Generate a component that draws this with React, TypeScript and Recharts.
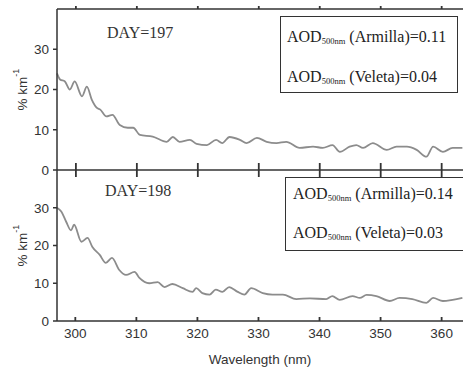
import React from "react";
import { Line, LineChart, XAxis, YAxis } from "recharts";

// wavelength (nm) and extinction (% km^-1)
const wl197 = [
  296.9, 297.4, 298.2, 299, 299.8, 301, 301.8, 302.6, 303.4, 304, 305, 306,
  307.2, 308.5, 309.4, 310.5, 312.6, 314.9, 315.9, 317, 318.7, 319.8, 321.5,
  323, 324, 325.2, 326.9, 328, 329.7, 331.3, 332.9, 334.5, 336.7, 338.9, 340.5,
  342.1, 343.3, 344.9, 346, 347.1, 348.7, 351, 352.6, 354.3, 355.9, 357.5,
  358.6, 360.2, 361.8, 363.4,
];
const day197 = [
  24, 22.5, 22, 20, 22, 18.3, 20.7, 17.5, 15.5, 15, 13.3, 13.7, 11.2, 10.5,
  10.5, 8.7, 8.3, 7, 8.2, 7, 7.5, 6.5, 6.2, 7.5, 6.7, 8.2, 7.5, 6.7, 8, 7, 6.7,
  7, 5.5, 5.8, 5.5, 6.2, 4.5, 5.8, 6.2, 5.5, 6.7, 5, 5.8, 5.8, 5, 3.3, 5.8, 4.5,
  5.5, 5.5,
];

const wl198 = [
  297, 297.7, 298.5, 299.3, 299.8, 301, 302, 302.8, 304, 305, 306, 307.2, 308.3,
  309.7, 310.5, 312.1, 313.5, 314.6, 315.9, 317.6, 319.2, 319.8, 320.8, 322,
  323, 324.1, 325.2, 326.6, 327.7, 328.8, 330.7, 332.3, 334, 336.2, 338.4,
  341.1, 342.1, 343.3, 345.4, 346.6, 347.7, 349.3, 351.5, 353.1, 355.2, 357.5,
  358.6, 360.2, 361.8, 363.4,
];
const day198 = [
  30, 29, 26.3, 24, 25.5, 21, 22, 19.6, 17.5, 15.4, 16.7, 13.5, 12.2, 13, 11.4,
  10, 10.3, 9, 9.8, 8.7, 7.7, 8.7, 7.4, 7, 8.3, 7.7, 9, 7.7, 7, 8.7, 7.4, 7, 7,
  5.8, 6, 5.8, 6.6, 5.6, 6.6, 6.1, 6.9, 6.6, 5.3, 6.1, 5.8, 4.8, 6.1, 5.3, 5.6,
  6.1,
];

const xTicks = [300, 310, 320, 330, 340, 350, 360];
const yTicks = [0, 10, 20, 30];

const data197 = wl197.map((w, i) => ({ w, v: day197[i] }));
const data198 = wl198.map((w, i) => ({ w, v: day198[i] }));

const axisColor = "#333";
const lineColor = "#8c8c8c";
const sans = "Liberation Sans, Arial, sans-serif";
const serif = "Liberation Serif, Times New Roman, serif";
const tickFont = { fontSize: 13.5, fill: "#333", fontFamily: sans };

// tick mark drawn by hand: up/down are lengths above/below the axis line
const XTick = (props: any) => {
  const { x, y, payload, up, down, label } = props;
  return (
    <g>
      <path d={`M${x},${y - up}L${x},${y + down}`} stroke={axisColor} strokeWidth={1.8} fill="none" />
      {label && (
        <text x={x} y={y + 17} textAnchor="middle" {...tickFont}>
          {payload.value}
        </text>
      )}
    </g>
  );
};

const YLabel = (props: any) => {
  const vb = props.viewBox;
  const cy = vb.y + vb.height / 2;
  return (
    <text
      x={22}
      y={cy}
      transform={`rotate(-90, 22, ${cy})`}
      textAnchor="middle"
      dominantBaseline="central"
      fontSize={13.5}
      fill="#333"
      fontFamily={sans}
    >
      % km
      <tspan dy={-6} fontSize={9}>
        -1
      </tspan>
    </text>
  );
};

const Aod = ({ site, value }: { site: string; value: string }) => (
  <div style={{ whiteSpace: "nowrap", lineHeight: "18px" }}>
    AOD<sub style={{ fontSize: 8.5, verticalAlign: "-2px" }}>500nm</sub> ({site})={value}
  </div>
);

const Panel = ({ data, bottom }: { data: any[]; bottom: boolean }) => (
  <LineChart
    width={463}
    height={bottom ? 198 : 180}
    data={data}
    margin={{ top: bottom ? 0 : 8, right: 0, bottom: 0, left: 0 }}
  >
    <XAxis
      xAxisId="top"
      orientation="top"
      dataKey="w"
      type="number"
      domain={[297, 363.5]}
      ticks={xTicks}
      height={bottom ? 0 : 1}
      hide={bottom}
      tickSize={0}
      tickMargin={0}
      tickLine={false}
      tick={<XTick up={3} down={0} />}
      stroke={axisColor}
      strokeWidth={1.5}
    />
    <XAxis
      dataKey="w"
      type="number"
      domain={[297, 363.5]}
      ticks={xTicks}
      height={bottom ? 47 : 10}
      tickSize={0}
      tickMargin={0}
      tickLine={false}
      tick={bottom ? <XTick up={4} down={0} label /> : <XTick up={7} down={7} />}
      stroke={axisColor}
      strokeWidth={1.5}
      label={
        bottom
          ? {
              value: "Wavelength (nm)",
              position: "insideBottom",
              offset: 4,
              fontSize: 13.5,
              fill: "#333",
              fontFamily: sans,
            }
          : undefined
      }
    />
    <YAxis
      type="number"
      domain={[0, 40]}
      ticks={yTicks}
      interval={0}
      width={57}
      tickSize={4}
      tickMargin={4}
      tick={tickFont}
      stroke={axisColor}
      strokeWidth={1.5}
      label={<YLabel />}
    />
    <Line
      dataKey="v"
      stroke={lineColor}
      strokeWidth={1.8}
      dot={false}
      isAnimationActive={false}
      type="monotone"
    />
  </LineChart>
);

export default function App() {
  return (
    <div
      style={{
        position: "absolute",
        left: 0,
        top: 0,
        width: 463,
        height: 368,
        background: "#fff",
        overflow: "hidden",
      }}
    >
      <div style={{ position: "absolute", left: 0, top: 170 }}>
        <Panel data={data198} bottom={true} />
      </div>
      <div style={{ position: "absolute", left: 0, top: 0 }}>
        <Panel data={data197} bottom={false} />
      </div>

      <div style={{ position: "absolute", left: 107, top: 24, fontFamily: serif, fontSize: 16, color: "#333" }}>
        DAY=197
      </div>
      <div style={{ position: "absolute", left: 105, top: 182, fontFamily: serif, fontSize: 16, color: "#333" }}>
        DAY=198
      </div>

      <div
        style={{
          position: "absolute",
          left: 280,
          top: 16,
          width: 178,
          height: 77,
          border: "1.5px solid #333",
          boxSizing: "border-box",
          background: "#fff",
          fontFamily: serif,
          fontSize: 16,
          color: "#222",
          padding: "11px 0 0 6px",
        }}
      >
        <div style={{ marginBottom: 18 }}>
          <Aod site="Armilla" value="0.11" />
        </div>
        <Aod site="Veleta" value="0.04" />
      </div>

      <div
        style={{
          position: "absolute",
          left: 285,
          top: 177,
          width: 190,
          height: 74,
          border: "1.5px solid #333",
          boxSizing: "border-box",
          background: "#fff",
          fontFamily: serif,
          fontSize: 16,
          color: "#222",
          padding: "7px 0 0 7px",
        }}
      >
        <div style={{ marginBottom: 17 }}>
          <Aod site="Armilla" value="0.14" />
        </div>
        <Aod site="Veleta" value="0.03" />
      </div>
    </div>
  );
}
